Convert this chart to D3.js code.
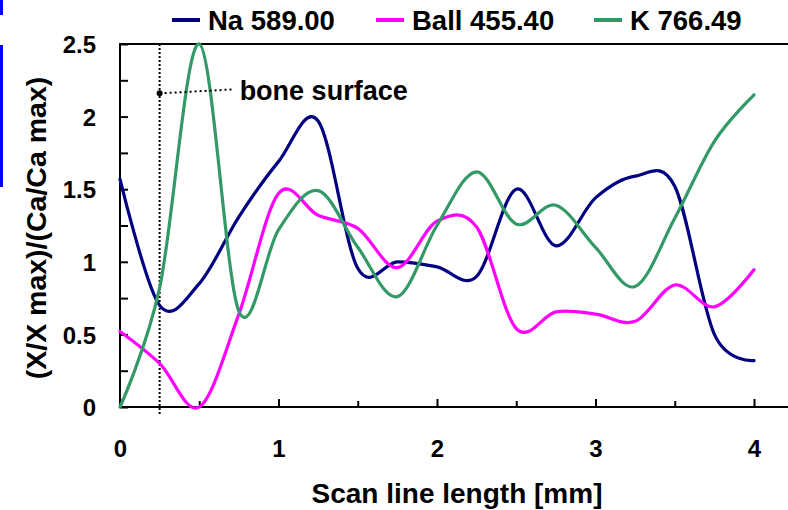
<!DOCTYPE html>
<html>
<head>
<meta charset="utf-8">
<script src="https://cdn.jsdelivr.net/npm/d3@7"></script>
<style>
  html, body { margin: 0; padding: 0; background: #fff; }
  svg { display: block; }
  text { font-family: "Liberation Sans", Arial, sans-serif; font-weight: bold; fill: #000; }
</style>
</head>
<body>
<svg id="chart" width="788" height="510"></svg>
<script>
// Scan positions along the line [mm]
const positions = [0, 0.25, 0.5, 0.75, 1, 1.25, 1.5, 1.75, 2, 2.25, 2.5, 2.75, 3, 3.25, 3.5, 3.75, 4];

// Normalised intensities (X/X max)/(Ca/Ca max)
const naValues   = [1.57, 0.70, 0.85, 1.31, 1.69, 1.97, 0.955, 1.00, 0.965, 0.90, 1.50, 1.11, 1.44, 1.59, 1.52, 0.50, 0.32];
const ballValues = [0.52, 0.30, 0.00, 0.64, 1.47, 1.32, 1.23, 0.96, 1.28, 1.24, 0.54, 0.655, 0.64, 0.59, 0.84, 0.69, 0.945];
const kValues    = [0.00, 0.82, 2.50, 0.66, 1.22, 1.49, 1.10, 0.76, 1.25, 1.62, 1.26, 1.39, 1.10, 0.83, 1.30, 1.83, 2.15];

const seriesNames  = ["Na 589.00", "Ball 455.40", "K 766.49"];
const seriesColors = ["#000080", "#ff00ff", "#339966"];

// Axis ticks and labels
const xTicks = [0, 0.5, 1, 1.5, 2, 2.5, 3, 3.5, 4];
const xLabels = ["0", "", "1", "", "2", "", "3", "", "4"];
const yTicks = [0, 0.25, 0.5, 0.75, 1, 1.25, 1.5, 1.75, 2, 2.25, 2.5];
const yLabels = ["0", "", "0.5", "", "1", "", "1.5", "", "2", "", "2.5"];

// Bone surface marker position [mm] and label
const boneSurfaceX = 0.25;
const boneSurfaceLabelY = 2.16;
const boneSurfaceText = "bone surface";

const xTitle = "Scan line length [mm]";
const yTitle = "(X/X max)/(Ca/Ca max)";

const svg = d3.select("#chart");
const plotLeft = 120, plotRight = 754, plotTop = 44, plotBottom = 407;

const x = d3.scaleLinear().domain([0, 4]).range([plotLeft, plotRight]);
const y = d3.scaleLinear().domain([0, 2.5]).range([plotBottom, plotTop]);

// Blue side bars at the left edge
svg.append("rect").attr("x", 0).attr("y", 0).attr("width", 3).attr("height", 15).attr("fill", "#0000ff");
svg.append("rect").attr("x", 0).attr("y", 45).attr("width", 3).attr("height", 142).attr("fill", "#0000ff");

// Plot frame (top edge runs off to the right)
svg.append("line").attr("x1", plotLeft).attr("x2", 800).attr("y1", plotTop).attr("y2", plotTop)
  .attr("stroke", "#000").attr("stroke-width", 2);

// X axis with inward ticks
const xAxis = svg.append("g")
  .attr("transform", `translate(0,${plotBottom})`)
  .call(d3.axisBottom(x).tickValues(xTicks).tickSize(-8).tickPadding(33)
    .tickFormat((d, i) => xLabels[i]));
xAxis.select(".domain").remove();
xAxis.selectAll(".tick line").attr("stroke-width", 2)
  .attr("y2", (d, i) => xLabels[i] === "" ? -6 : -8);
xAxis.selectAll(".tick text").style("font-size", "24px");
xAxis.attr("font-family", null).attr("font-size", null);
xAxis.append("line").attr("x1", plotLeft - 1).attr("x2", 800).attr("y1", 0).attr("y2", 0)
  .attr("stroke", "#000").attr("stroke-width", 2);

// Y axis with inward ticks
const yAxis = svg.append("g")
  .attr("transform", `translate(${plotLeft},0)`)
  .call(d3.axisLeft(y).tickValues(yTicks).tickSize(-8).tickPadding(24)
    .tickFormat((d, i) => yLabels[i]));
yAxis.select(".domain").remove();
yAxis.selectAll(".tick line").attr("stroke-width", 2);
yAxis.selectAll(".tick text").style("font-size", "24px").attr("dy", "0.36em");
yAxis.attr("font-family", null).attr("font-size", null);
yAxis.append("line").attr("x1", 0).attr("x2", 0).attr("y1", plotTop - 1).attr("y2", plotBottom + 1)
  .attr("stroke", "#000").attr("stroke-width", 2);

// Bone surface marker
svg.append("line")
  .attr("x1", x(boneSurfaceX)).attr("x2", x(boneSurfaceX))
  .attr("y1", plotTop).attr("y2", plotBottom + 9)
  .attr("stroke", "#000").attr("stroke-width", 2).attr("stroke-dasharray", "2,2");

// Series lines, smoothed with a uniform Catmull-Rom spline
const line = d3.line()
  .x((d, i) => x(positions[i]))
  .y(d => y(d))
  .curve(d3.curveCatmullRom.alpha(0));

const seriesValues = [naValues, ballValues, kValues];
svg.append("g").selectAll("path")
  .data(seriesValues)
  .join("path")
  .attr("d", d => line(d))
  .attr("fill", "none")
  .attr("stroke", (d, i) => seriesColors[i])
  .attr("stroke-width", 3.2)
  .attr("stroke-linejoin", "round")
  .attr("stroke-linecap", "round");

// Annotation pointer and label
const px = x(boneSurfaceX), py = y(boneSurfaceLabelY);
svg.append("line")
  .attr("x1", px).attr("y1", py).attr("x2", px + 74).attr("y2", py - 4)
  .attr("stroke", "#000").attr("stroke-width", 2).attr("stroke-dasharray", "2,3");
svg.append("circle").attr("cx", px).attr("cy", py).attr("r", 3).attr("fill", "#000");
svg.append("text")
  .attr("x", px + 80).attr("y", py + 7)
  .style("font-size", "27px")
  .text(boneSurfaceText);

// Legend
const legendX = [172, 376, 594];
const legend = svg.append("g");
seriesNames.forEach((name, i) => {
  legend.append("line")
    .attr("x1", legendX[i]).attr("x2", legendX[i] + 28)
    .attr("y1", 20).attr("y2", 20)
    .attr("stroke", seriesColors[i]).attr("stroke-width", 4);
  legend.append("text")
    .attr("x", legendX[i] + 36).attr("y", 30)
    .style("font-size", "27.5px")
    .text(name);
});

// Axis titles
svg.append("text")
  .attr("x", 457).attr("y", 503)
  .attr("text-anchor", "middle")
  .style("font-size", "28px")
  .text(xTitle);

svg.append("text")
  .attr("transform", "translate(46,228) rotate(-90)")
  .attr("text-anchor", "middle")
  .style("font-size", "28.5px")
  .text(yTitle);
</script>
</body>
</html>
